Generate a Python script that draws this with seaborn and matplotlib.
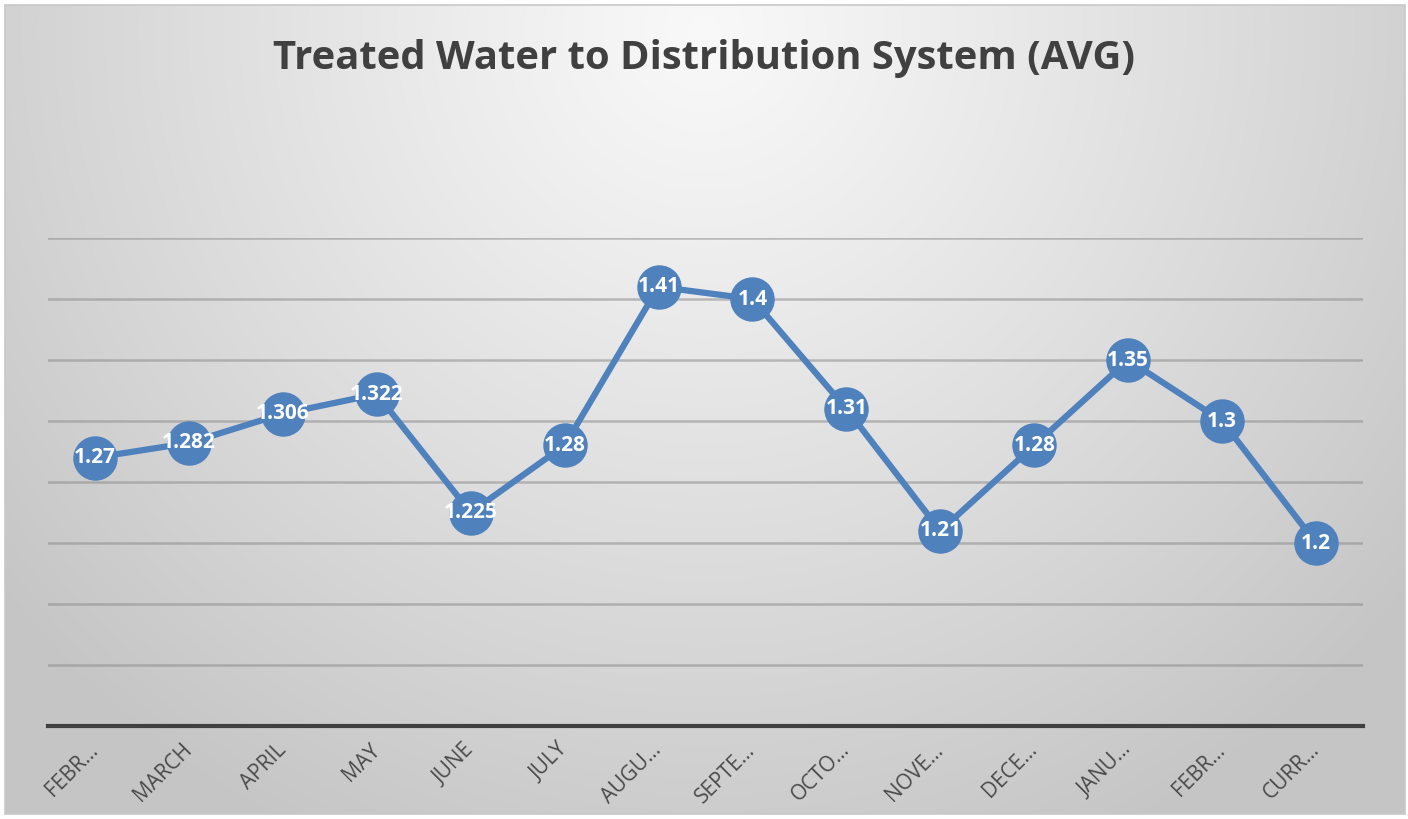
import numpy as np
import pandas as pd
import matplotlib
matplotlib.use("Agg")
import matplotlib.pyplot as plt
import seaborn as sns
from matplotlib.patches import Rectangle

# ---- data ----
months = ["FEBR…", "MARCH", "APRIL", "MAY", "JUNE", "JULY", "AUGU…", "SEPTE…",
          "OCTO…", "NOVE…", "DECE…", "JANU…", "FEBR…", "CURR…"]
values = [1.27, 1.282, 1.306, 1.322, 1.225, 1.28, 1.41, 1.4, 1.31, 1.21, 1.28, 1.35, 1.3, 1.2]
value_labels = ["1.27", "1.282", "1.306", "1.322", "1.225", "1.28", "1.41", "1.4",
                "1.31", "1.21", "1.28", "1.35", "1.3", "1.2"]
title = "Treated Water to Distribution System (AVG)"

df = pd.DataFrame({"pos": np.arange(len(months)), "value": values})

sns.set_theme(style="white")
plt.rcParams["font.family"] = ["Open Sans", "DejaVu Sans"]

W, H = 1408, 819
fig = plt.figure(figsize=(W / 100, H / 100), dpi=100)
fig.patch.set_facecolor("white")

# background radial gradient
bg = fig.add_axes([0, 0, 1, 1], zorder=-10)
yy, xx = np.mgrid[0:H, 0:W]
d = np.sqrt(((xx - 704) / 900.0) ** 2 + ((yy - 30) / 900.0) ** 2)
d = np.clip(d, 0, 1)
shade = 0.975 - 0.20 * d ** 1.1
img = np.dstack([shade, shade, shade])
img[:5, :, :] = 1.0
img[-5:, :, :] = 1.0
img[:, :5, :] = 1.0
img[:, -3:, :] = 1.0
bg.imshow(img, aspect="auto", extent=[0, W, H, 0], interpolation="bilinear")
bg.add_patch(Rectangle((5, 5), W - 8, H - 10, fill=False, edgecolor="#c8c8c8", lw=1.2))
bg.set_xlim(0, W)
bg.set_ylim(H, 0)
bg.axis("off")

left, right, top, bottom = 48, 1363, 238, 726
ax = fig.add_axes([left / W, 1 - bottom / H, (right - left) / W, (bottom - top) / H])
ax.set_facecolor("none")

blue = "#4F81BD"
sns.lineplot(data=df, x="pos", y="value", ax=ax, color=blue, lw=4.5,
             marker="o", markersize=32, markeredgewidth=0, zorder=5)

for i, (v, lab) in enumerate(zip(values, value_labels)):
    ax.text(i, v, lab, ha="center", va="center", color="white",
            fontsize=15, fontweight="bold", zorder=6)

ax.set_xlim(-0.5, len(months) - 0.5)
ax.set_ylim(1.05, 1.45)
ax.set_yticks(np.arange(1.10, 1.451, 0.05))
ax.yaxis.grid(True, color="#8c8c8c", alpha=0.55, lw=1.8)
ax.set_axisbelow(True)
ax.tick_params(axis="y", left=False, labelleft=False)
for s in ["left", "right", "top"]:
    ax.spines[s].set_visible(False)
ax.spines["bottom"].set_color("#404040")
ax.spines["bottom"].set_linewidth(3)

ax.set_xticks(df["pos"])
ax.set_xticklabels(months, rotation=45, ha="right", va="center",
                   rotation_mode="anchor", color="#4a4a4a", fontsize=15)
ax.tick_params(axis="x", bottom=False, pad=9)
ax.set_xlabel("")
ax.set_ylabel("")

fig.text(0.5, 1 - 58 / H, title, ha="center", va="center",
         fontsize=28.8, fontweight="bold", color="#404040")

fig.savefig("out.png", dpi=100)
